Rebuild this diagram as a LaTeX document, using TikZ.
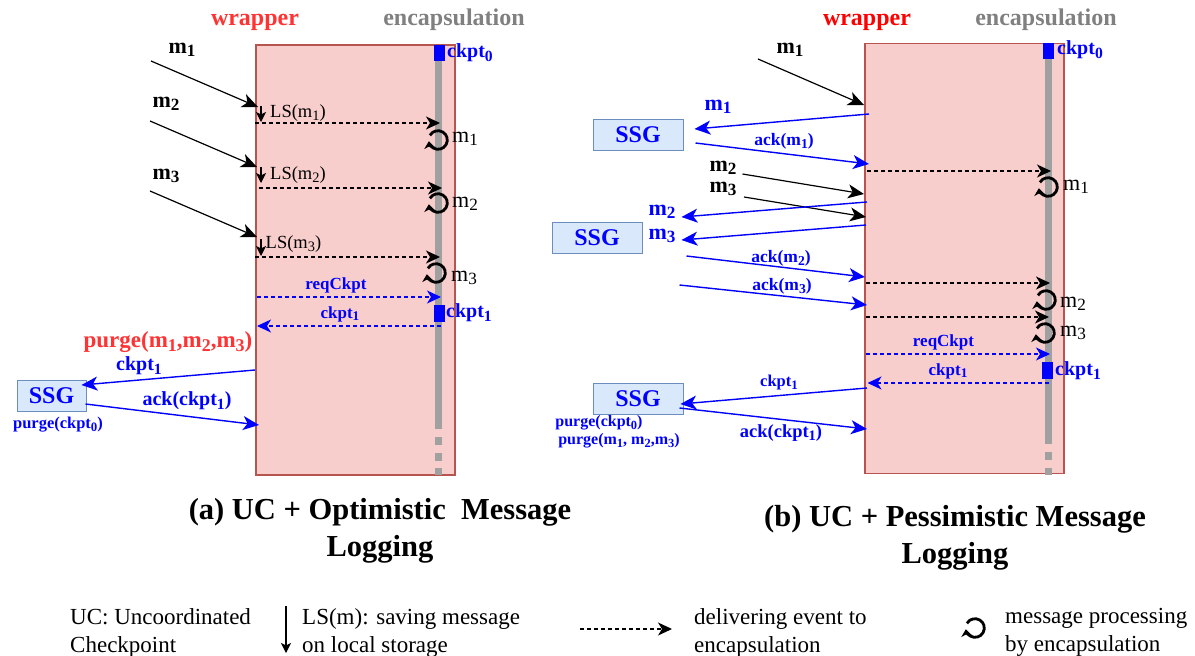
\documentclass[tikz,border=0pt]{standalone}
\usepackage{fontspec}
\setmainfont{Liberation Serif}
\usetikzlibrary{arrows.meta}
\newcommand{\dn}[1]{\raisebox{-.35ex}{\scalebox{.78}{#1}}}
\definecolor{wrapfill}{HTML}{F8CECC}
\definecolor{wrapline}{HTML}{B85450}
\definecolor{ssgfill}{HTML}{DAE8FC}
\definecolor{ssgline}{HTML}{6C8EBF}
\definecolor{lifegray}{HTML}{A0A0A0}
\definecolor{capgray}{HTML}{808080}
\definecolor{purgered}{HTML}{FF3333}
\tikzset{
  wrapbox/.style={draw=wrapline,fill=wrapfill,line width=1.2pt,minimum width=199pt,minimum height=430pt,inner sep=0pt},
  ssgbox/.style={draw=ssgline,fill=ssgfill,line width=1pt,minimum width=#1,minimum height=31pt,inner sep=0pt,font=\fontsize{24}{26}\selectfont\bfseries,text=blue},
  ckptbox/.style={fill=blue,minimum width=11pt,minimum height=#1,inner sep=0pt},
  bluelbl/.style={font=\fontsize{#1}{#1}\selectfont\bfseries,text=blue,inner sep=0pt},
  blacklbl/.style={font=\fontsize{22}{24}\selectfont\bfseries,inner sep=0pt},
  plainlbl/.style={font=\fontsize{#1}{#1}\selectfont,inner sep=0pt},
  headlbl/.style={font=\fontsize{24}{26}\selectfont\bfseries,inner sep=0pt},
  caplbl/.style={font=\fontsize{30.5}{37}\selectfont\bfseries,inner sep=0pt},
  leglbl/.style={font=\fontsize{23}{28}\selectfont,inner sep=0pt,anchor=west,align=left},
  blackmsg/.style={line width=1.2pt,-{Stealth[length=16pt,width=14pt,inset=4.5pt]}},
  bluemsg/.style={blue,line width=1.4pt,-{Stealth[length=16pt,width=14pt,inset=4.5pt]}},
  lsarrow/.style={line width=1.2pt,-{Stealth[length=10pt,width=10pt,inset=2.5pt]}},
  blackdash/.style={line width=1.1pt,dash pattern=on 4pt off 3pt,-{Stealth[length=14pt,width=13pt,inset=4pt]}},
  bluedash/.style={blue,line width=1.1pt,dash pattern=on 4pt off 3pt,-{Stealth[length=14pt,width=13pt,inset=4pt]}},
  lifeline/.style={lifegray,line width=7pt},
  lifedash/.style={lifegray,line width=7pt,dash pattern=on 8pt off 7.5pt},
  procloop/.style={line width=2.8pt,-{Stealth[length=7pt,width=11pt,inset=2pt]}}
}
\begin{document}
\begin{tikzpicture}[x=1pt,y=-1pt]
\useasboundingbox (0,0) rectangle (1195,656);

% wrapper boxes
\node[wrapbox] (wrapA) at (355.5,260) {};
\node[wrapbox] (wrapB) at (964.5,258.5) {};

% encapsulation lifelines
\foreach \name/\x/\ya/\yb/\yc in {lifeA/438/45/429/475,lifeB/1048/44/444/475}{
\coordinate (\name top) at (\x,\ya);
\coordinate (\name mid) at (\x,\yb);
\coordinate (\name low) at (\x,\yc);
\draw[lifeline] (\name top) -- (\name mid);
\draw[lifedash] ([yshift=-8pt]\name mid) -- (\name low);
}

% checkpoints
\node[ckptbox=16pt] (ckptAa) at (439,53) {};
\node[ckptbox=17pt] (ckptAb) at (439,313.5) {};
\node[ckptbox=16pt] (ckptBa) at (1048.5,51) {};
\node[ckptbox=17pt] (ckptBb) at (1047.5,370.5) {};

% SSG boxes
\node[ssgbox=69pt] (ssgA) at (51.5,395.5) {SSG};
\node[ssgbox=90pt] (ssgB) at (638,135) {SSG};
\node[ssgbox=90pt] (ssgC) at (597,237.5) {SSG};
\node[ssgbox=90pt] (ssgD) at (638,398.5) {SSG};

% incoming messages
\foreach \name/\xa/\ya/\xb/\yb in {inAa/151/61/258/107,inAb/150/121/257/167,inAc/150/191/257/237,inBa/758/59/864/105,inBb/742.5/174/864/194,inBc/744/197/866/217}{
\coordinate (\name s) at (\xa,\ya);
\coordinate (\name e) at (\xb,\yb);
\draw[blackmsg] (\name s) -- (\name e);
}

% saving on local storage
\foreach \name/\x/\ya/\yb in {lsAa/261/106/122,lsAb/261/167/183,lsAc/261/239/256}{
\coordinate (\name s) at (\x,\ya);
\coordinate (\name e) at (\x,\yb);
\draw[lsarrow] (\name s) -- (\name e);
}

% delivering events
\foreach \name/\xa/\xb/\y in {dvAa/255/440/123,dvAb/258.5/442/188,dvAc/255/440/257,dvBa/867/1051/171,dvBb/866/1050/283,dvBc/866/1049/317}{
\coordinate (\name s) at (\xa,\y);
\coordinate (\name e) at (\xb,\y);
\draw[blackdash] (\name s) -- (\name e);
}

% checkpoint request and answer
\foreach \name/\xa/\xb/\y in {reqA/257/441/297,reqB/866/1050/354,ansA/441/257/326,ansB/1049/867.5/383}{
\coordinate (\name s) at (\xa,\y);
\coordinate (\name e) at (\xb,\y);
\draw[bluedash] (\name s) -- (\name e);
}

% from wrapper to SSG
\foreach \name/\xa/\ya/\ssg/\dx/\dy in {toAa/255/370/ssgA/-5/10.5,toBa/869/114/ssgB/11/6,toCa/867/202/ssgC/39/20.5,toCb/866/225/ssgC/39/-2.5,toDa/867/388/ssgD/-3/-5.5}{
\coordinate (\name s) at (\xa,\ya);
\draw[bluemsg] (\name s) -- ([xshift=\dx pt,yshift=\dy pt]\ssg.east);
}

% from SSG to wrapper
\foreach \name/\xb/\yb/\ssg/\dx/\dy in {frAa/259/425/ssgA/-1/-8.5,frBa/869/164/ssgB/12/-8,frCa/865/277/ssgC/44/-18.5,frCb/867/305/ssgC/37/-47.5,frDa/867/429/ssgD/-4/-9.5}{
\coordinate (\name e) at (\xb,\yb);
\draw[bluemsg] ([xshift=\dx pt,yshift=\dy pt]\ssg.east) -- (\name e);
}

% message processing
\foreach \name/\x/\y in {pcAa/438/140,pcAb/438/203,pcAc/436/273,pcBa/1048/187,pcBb/1046/300,pcBc/1045/333,pcLeg/975/628}{
\coordinate (\name) at (\x,\y);
\draw[procloop] (\name) ++(-150:9.3) arc[start angle=-150,end angle=172,radius=9.3];
}

% headers
\foreach \name/\x/\clr/\txt in {hdAa/255/purgered/wrapper,hdBa/867/red/wrapper,hdAb/454/capgray/encapsulation,hdBb/1046/capgray/encapsulation}
\node[headlbl,text=\clr,anchor=base] (\name) at (\x,25.5) {\txt};

% black labels
\foreach \name/\x/\y/\idx in {lblAa/182/50/1,lblAb/166/104/2,lblAc/166/176/3,lblBa/790/50/1,lblBb/723/168/2,lblBc/723/189/3}
\node[blacklbl] (\name) at (\x,\y) {m\dn{\idx}};

% blue labels
\foreach \name/\x/\y/\sz/\txt in {
cpAa/470/53/20/ckpt\dn{0},cpAb/469/313/20/ckpt\dn{1},cpBa/1080/50/20/ckpt\dn{0},cpBb/1078/371/20/ckpt\dn{1},
rqA/336/285/17/reqCkpt,rqB/943.5/342/17/reqCkpt,
anA/340/314/17/ckpt\dn{1},anB/948/371/17/ckpt\dn{1},
ssAa/139/366/20/ckpt\dn{1},ssAb/187/401/20/ack(ckpt\dn{1}),ssAc/58/425/16.5/purge(ckpt\dn{0}),
ssBa/718/107/22/m\dn{1},ssBb/784/141/17.5/ack(m\dn{1}),
ssCa/662/212/22/m\dn{2},ssCb/662/236/22/m\dn{3},ssCc/781/258/17.5/ack(m\dn{2}),ssCd/782/286/17.5/ack(m\dn{3}),
ssDa/779/383/16.5/ckpt\dn{1},ssDb/781/433/18.5/ack(ckpt\dn{1}),ssDc/599/423/16/purge(ckpt\dn{0}),ssDd/619/441/16/{purge(m\dn{1}, m\dn{2},m\dn{3})}}
\node[bluelbl=\sz] (\name) at (\x,\y) {\txt};

% red label
\node[font=\fontsize{23}{25}\selectfont\bfseries,inner sep=0pt,text=purgered] (prgA) at (168,342) {purge(m\dn{1},m\dn{2},m\dn{3})};

% plain labels
\foreach \name/\x/\y/\sz/\txt in {
lsLa/298/113/18.5/LS(m\dn{1}),lsLb/298/175/18.5/LS(m\dn{2}),lsLc/293.5/244/18.5/LS(m\dn{3}),
pmAa/465/139/22/m\dn{1},pmAb/465/204/22/m\dn{2},pmAc/464/278/22/m\dn{3},
pmBa/1076/187/22/m\dn{1},pmBb/1073/304/22/m\dn{2},pmBc/1073/333/22/m\dn{3}}
\node[plainlbl=\sz] (\name) at (\x,\y) {\txt};

% captions
\node[caplbl,align=center] (capA) at (380,530.5) {(a) UC + Optimistic~ Message\\Logging};
\node[caplbl,align=center] (capB) at (955,538) {(b) UC + Pessimistic Message\\Logging};

% legend
\node[leglbl] (lgUC) at (70,632.5) {UC: Uncoordinated\\Checkpoint};
\node[leglbl] (lgLS) at (302,632.5) {LS(m): saving message\\on local storage};
\node[leglbl] (lgDV) at (694,632.5) {delivering event to\\encapsulation};
\node[leglbl] (lgPC) at (1005,632.5) {message processing\\by encapsulation};
\coordinate (lgLSs) at (286,606);
\coordinate (lgLSe) at (286,653);
\coordinate (lgDVs) at (580,629);
\coordinate (lgDVe) at (672,629);
\draw[lsarrow] (lgLSs) -- (lgLSe);
\draw[blackdash] (lgDVs) -- (lgDVe);
\end{tikzpicture}
\end{document}
